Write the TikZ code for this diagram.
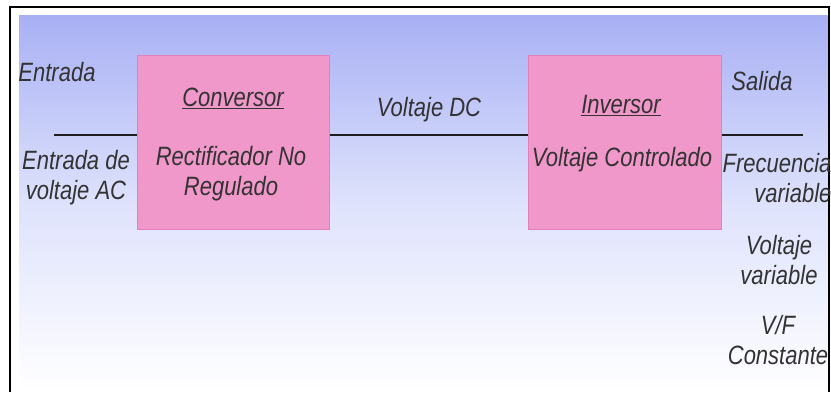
\documentclass[tikz,border=0pt]{standalone}
\usepackage{fontspec}
\setmainfont{Liberation Sans}[FakeStretch=0.83]
\begin{document}
\begin{tikzpicture}[x=1pt,y=-1pt,
  lbl/.style={font=\fontsize{26.5}{30}\selectfont\itshape, text=black!80, inner sep=0pt, align=center},
  wire/.style={line width=2pt, black!88}]
\useasboundingbox (0,0) rectangle (831,392);
\definecolor{bgtop}{RGB}{168,176,244}
\definecolor{bgmid}{RGB}{222,226,252}
\definecolor{boxpink}{RGB}{241,152,202}
\definecolor{boxedge}{RGB}{226,128,186}
\tikzset{blockbox/.style={draw=boxedge, line width=1pt, fill=boxpink, minimum height=174pt, inner sep=0pt}}
% background gradient
\shade[top color=bgtop, bottom color=white, middle color=bgmid] (19,15) rectangle (828,390);
% outer frame
\draw[line width=2pt, black] (9.5,392) -- (9.5,7) -- (829,7) -- (829,392);
% blocks
\node[blockbox, minimum width=192pt] (conv) at (233,142) {};
\node[blockbox, minimum width=193pt] (inv) at (624.5,142) {};
% wires
\coordinate (inL) at (54,135);
\coordinate (outR) at (803,135);
\draw[wire] (inL) -- (inL -| conv.west);
\draw[wire] (conv.east |- 0,135) -- (inv.west |- 0,135);
\draw[wire] (inv.east |- 0,135) -- (outR);
% texts
\node[lbl] (entrada) at (57,72) {Entrada};
\node[lbl] (entac) at (76,178) {Entrada de\\voltaje AC};
\node[lbl] (convt) at (233,98) {\underline{Conversor}};
\node[lbl] (rect) at (231,174) {Rectificador No\\Regulado};
\node[lbl] (vdc) at (429,110) {Voltaje DC};
\node[lbl] (invt) at (621,106) {\underline{Inversor}};
\node[lbl] (vctl) at (622,160) {Voltaje Controlado};
\node[lbl] (salida) at (762,81) {Salida};
\node[lbl, align=right] (frec) at (777,178) {Frecuencia\\variable};
\node[lbl] (vvar) at (779,260) {Voltaje\\variable};
\node[lbl] (vf) at (778,340) {V/F\\Constante};
\end{tikzpicture}
\end{document}
